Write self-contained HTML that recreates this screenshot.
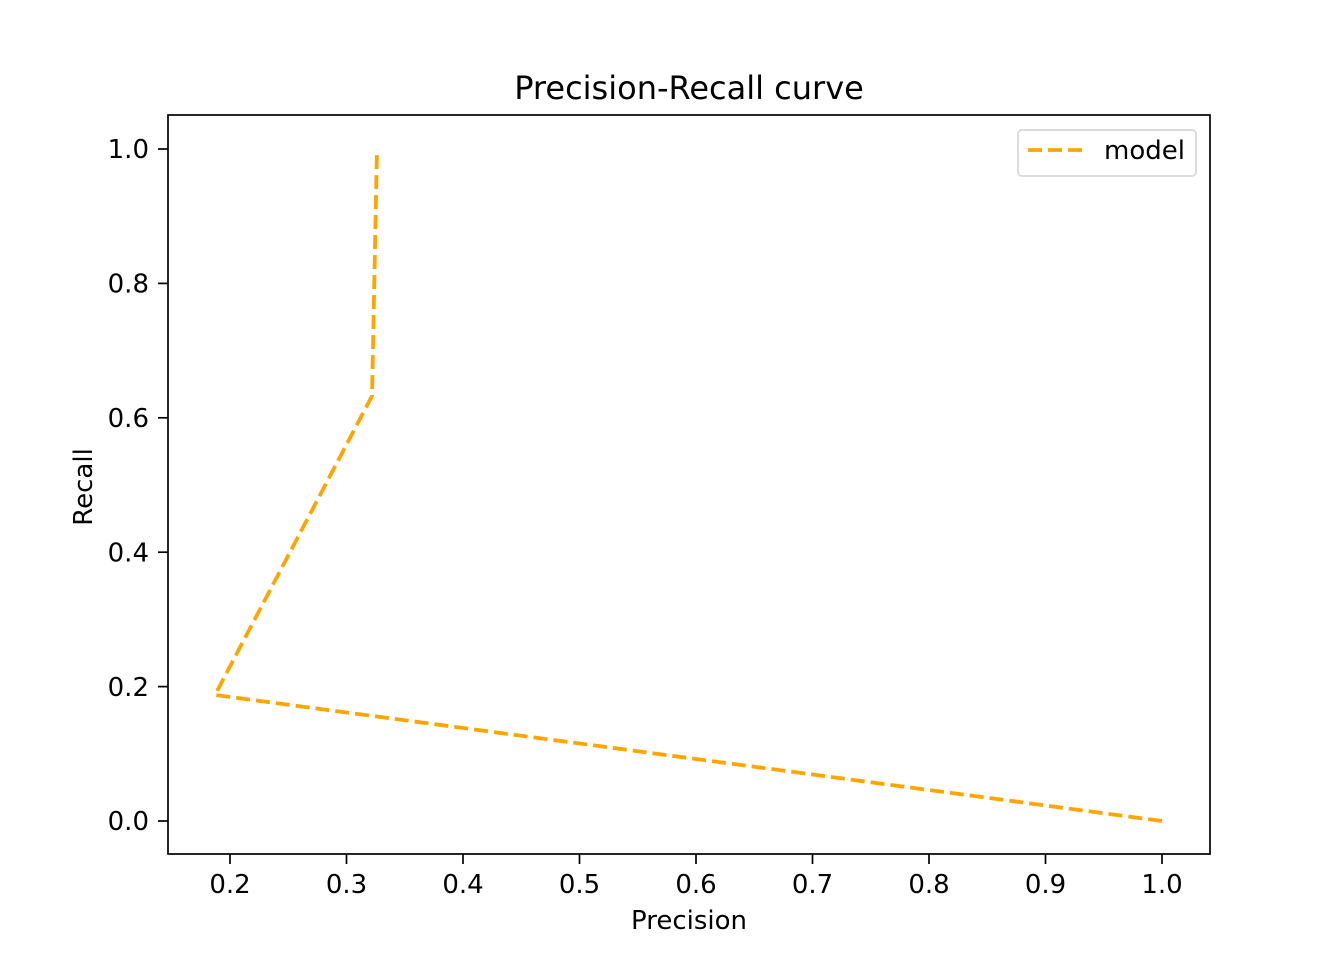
<!DOCTYPE html>
<html><head><meta charset="utf-8"><style>body{margin:0;background:#fff}svg{display:block}</style></head>
<body>
<svg width="1344" height="960" xmlns="http://www.w3.org/2000/svg" font-family="DejaVu Sans, Liberation Sans, sans-serif">
<rect width="1344" height="960" fill="#fff"/>
<text x="689" y="99" font-size="32" text-anchor="middle">Precision-Recall curve</text>
<g stroke="#000" stroke-width="1.7">
<line x1="230" y1="854" x2="230" y2="864"/><line x1="346.5" y1="854" x2="346.5" y2="864"/><line x1="463" y1="854" x2="463" y2="864"/><line x1="579.5" y1="854" x2="579.5" y2="864"/><line x1="696" y1="854" x2="696" y2="864"/><line x1="812.5" y1="854" x2="812.5" y2="864"/><line x1="929" y1="854" x2="929" y2="864"/><line x1="1045.5" y1="854" x2="1045.5" y2="864"/><line x1="1162" y1="854" x2="1162" y2="864"/>
<line x1="158" y1="821" x2="168" y2="821"/><line x1="158" y1="686.6" x2="168" y2="686.6"/><line x1="158" y1="552.2" x2="168" y2="552.2"/><line x1="158" y1="417.8" x2="168" y2="417.8"/><line x1="158" y1="283.4" x2="168" y2="283.4"/><line x1="158" y1="149" x2="168" y2="149"/>
</g>
<g font-size="26" text-anchor="middle">
<text x="230" y="893">0.2</text><text x="346.5" y="893">0.3</text><text x="463" y="893">0.4</text><text x="579.5" y="893">0.5</text><text x="696" y="893">0.6</text><text x="812.5" y="893">0.7</text><text x="929" y="893">0.8</text><text x="1045.5" y="893">0.9</text><text x="1162" y="893">1.0</text>
</g>
<g font-size="26" text-anchor="end">
<text x="149" y="830">0.0</text><text x="149" y="696">0.2</text><text x="149" y="561.5">0.4</text><text x="149" y="427">0.6</text><text x="149" y="292.5">0.8</text><text x="149" y="158">1.0</text>
</g>
<text x="689" y="929" font-size="26" text-anchor="middle">Precision</text>
<text transform="translate(92,487) rotate(-90)" font-size="26" text-anchor="middle">Recall</text>
<polyline points="1162,821 215,695 372,396 377,149" fill="none" stroke="#ffa500" stroke-width="3.8" stroke-dasharray="14,6"/>
<rect x="168" y="115" width="1042" height="739" fill="none" stroke="#000" stroke-width="1.7"/>
<rect x="1018" y="130" width="178" height="46" rx="4" fill="#fff" stroke="#d6d6d6" stroke-width="1.7"/>
<line x1="1028" y1="150" x2="1082" y2="150" stroke="#ffa500" stroke-width="3.8" stroke-dasharray="14,6"/>
<text x="1104" y="159" font-size="26">model</text>
</svg>
</body></html>
